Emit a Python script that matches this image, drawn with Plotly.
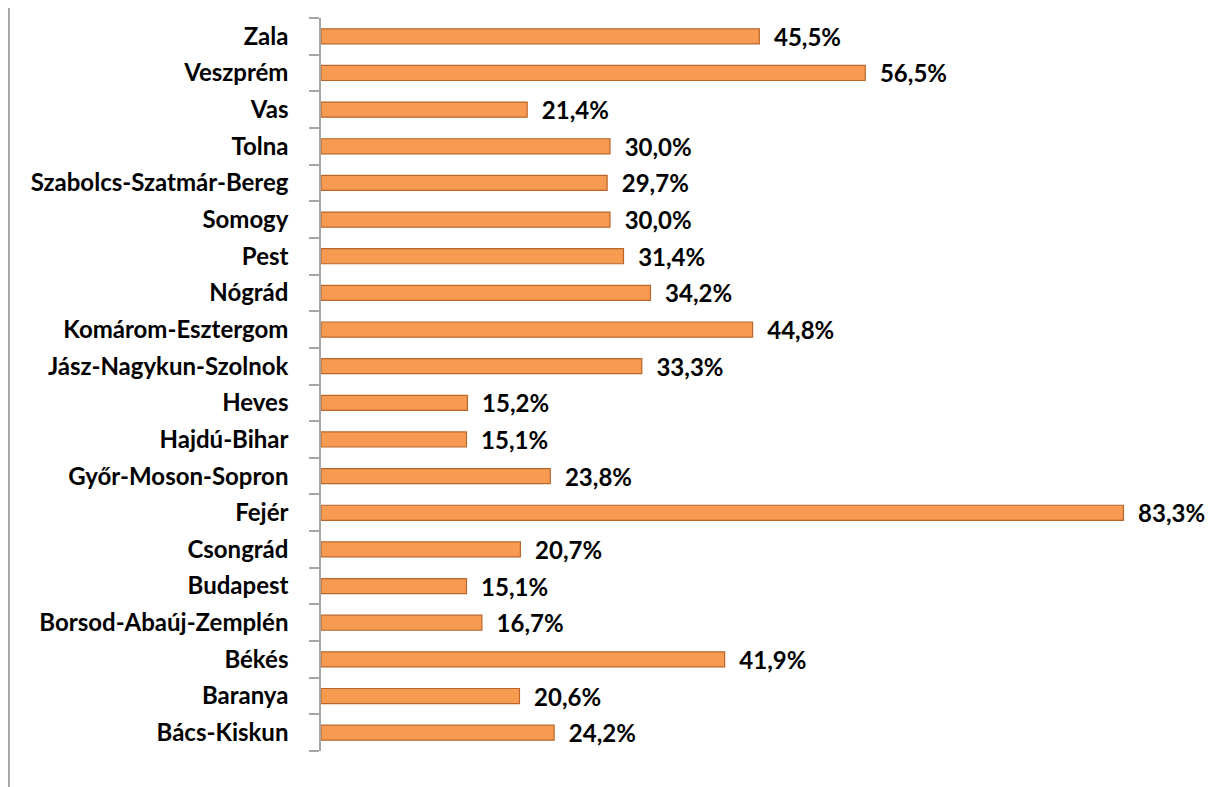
import plotly.graph_objects as go

counties = ["Zala", "Veszprém", "Vas", "Tolna", "Szabolcs-Szatmár-Bereg", "Somogy", "Pest",
            "Nógrád", "Komárom-Esztergom", "Jász-Nagykun-Szolnok", "Heves", "Hajdú-Bihar",
            "Győr-Moson-Sopron", "Fejér", "Csongrád", "Budapest", "Borsod-Abaúj-Zemplén",
            "Békés", "Baranya", "Bács-Kiskun"]
values = [45.5, 56.5, 21.4, 30.0, 29.7, 30.0, 31.4, 34.2, 44.8, 33.3, 15.2, 15.1,
          23.8, 83.3, 20.7, 15.1, 16.7, 41.9, 20.6, 24.2]

labels = ["\u00a0\u00a0" + f"{v:.1f}".replace(".", ",") + "%" for v in values]

W, H = 1216, 779
ML, MR, MT, MB = 313, 36, 10, 36
FONT = "Lato, 'Open Sans', sans-serif"

fig = go.Figure(go.Bar(
    x=values, y=counties, orientation="h",
    text=labels, textposition="outside", cliponaxis=False, constraintext="none",
    textfont=dict(family=FONT, size=24, color="#000000", weight="bold"),
    marker=dict(color="#F79A52", line=dict(color="#B9662B", width=1.2)),
    width=0.41,
))

fig.update_layout(
    width=W, height=H,
    margin=dict(l=ML, r=MR, t=MT, b=MB, autoexpand=False),
    paper_bgcolor="white", plot_bgcolor="white",
    showlegend=False,
    xaxis=dict(range=[0, 90], visible=False, showgrid=False, zeroline=False),
    yaxis=dict(
        categoryorder="array", categoryarray=counties[::-1],
        showline=True, linecolor="#A6A6A6", linewidth=1.5,
        ticks="outside", tickson="boundaries", ticklen=10, tickcolor="#A6A6A6", tickwidth=1.5,
        tickfont=dict(family=FONT, size=24, color="#000000", weight="bold"),
        ticklabelstandoff=26, automargin=False,
        showgrid=False,
    ),
    shapes=[dict(
        type="line", xref="paper", yref="paper",
        x0=(1 - ML) / (W - ML - MR), x1=(1 - ML) / (W - ML - MR),
        y0=-MB / (H - MT - MB), y1=1 + MT / (H - MT - MB),
        line=dict(color="#8C8C8C", width=1.5),
    )],
)

fig.write_html("out.html")
